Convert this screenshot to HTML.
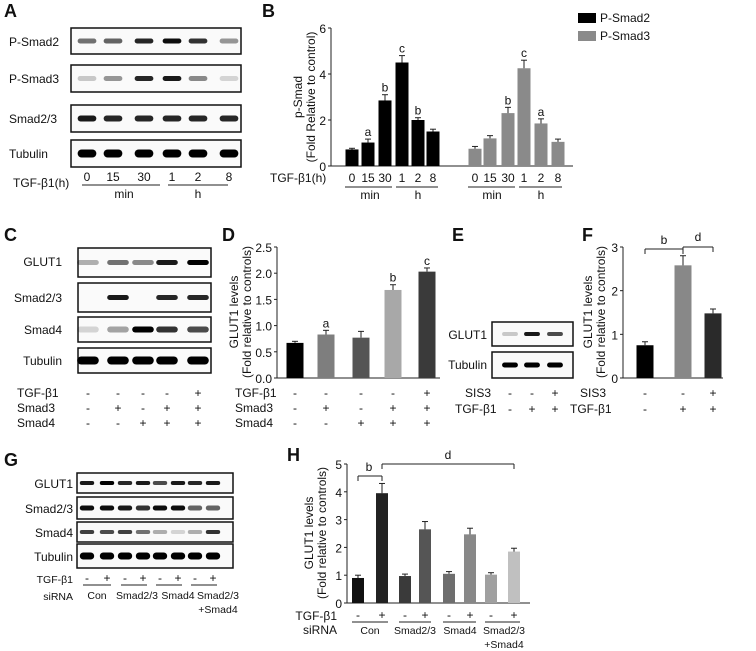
<!DOCTYPE html>
<html><head><meta charset="utf-8"><style>
body{margin:0;background:#fff}
svg{display:block;font-family:"Liberation Sans",sans-serif}
text{font-size:12px;fill:#111}
.pl{font-size:18px;font-weight:bold}
.sm{font-size:10.5px}
</style></head><body>
<svg id="fig" width="756" height="651" viewBox="0 0 756 651"></svg>
<script>
// ---- Data arrays ----
const bCategories=["0","15","30","1","2","8"];
const bSmad2=[0.72,1.02,2.85,4.5,2.0,1.5];
const bSmad2Err=[0.05,0.15,0.25,0.3,0.1,0.1];
const bSmad2Sig=["","a","b","c","b",""];
const bSmad3=[0.75,1.2,2.3,4.25,1.85,1.05];
const bSmad3Err=[0.1,0.12,0.25,0.35,0.2,0.12];
const bSmad3Sig=["","","b","c","a",""];
const bTicks=[0,2,4,6];
const dValues=[0.67,0.83,0.77,1.68,2.03];
const dErr=[0.03,0.08,0.12,0.1,0.07];
const dSig=["","a","","b","c"];
const dTicks=["0.0","0.5","1.0","1.5","2.0","2.5"];
const fValues=[0.75,2.58,1.48];
const fErr=[0.08,0.22,0.1];
const fTicks=[0,1,2,3];
const hValues=[0.9,3.95,0.97,2.65,1.05,2.47,1.02,1.85];
const hErr=[0.1,0.35,0.07,0.28,0.08,0.22,0.07,0.12];
const hTicks=[0,1,2,3,4,5];

const NS="http://www.w3.org/2000/svg";
const svg=document.getElementById('fig');
function el(tag,attrs,parent){const e=document.createElementNS(NS,tag);for(const k in attrs)e.setAttribute(k,attrs[k]);(parent||svg).appendChild(e);return e;}
function txt(x,y,s,anchor,cls,name){const t=el('text',{x:x,y:y,'text-anchor':anchor||'start'});if(cls)t.setAttribute('class',cls);t.textContent=s;


return t;}
function line(x1,y1,x2,y2,name){const l=el('line',{x1:x1,y1:y1,x2:x2,y2:y2,stroke:'#222','stroke-width':1});


return l;}

function axis(x0,x1,y0,yTop,max,ticks,name){
  const g=el('g',{});
  
  
  const sy=v=>y0-(v/max)*(y0-yTop);
  line(x0,yTop,x0,y0,'y-axis');line(x0,y0,x1,y0,'x-axis');
  ticks.forEach(t=>{const v=parseFloat(t);line(x0-3,sy(v),x0,sy(v),'y-tick');txt(x0-5,sy(v)+5,String(t),'end',null,'y-tick-label');});
  return sy;
}
function bar(cx,w,sy,y0,v,err,color,sig,name){
  const r=el('rect',{x:cx-w/2,y:sy(v),width:w,height:y0-sy(v),fill:color});
  
  
  if(err){line(cx,sy(v),cx,sy(v+err),'error-bar');line(cx-3,sy(v+err),cx+3,sy(v+err),'error-cap');}
  if(sig)txt(cx,sy(v+err)-3,sig,'middle',null,'significance-label');
}
function ytitle(x,y,l1,l2){const t=el('text',{transform:`translate(${x},${y}) rotate(-90)`,'text-anchor':'middle'});


const a=el('tspan',{x:0,dy:0},t);a.textContent=l1;const b=el('tspan',{x:0,dy:13},t);b.textContent=l2;}

function blot(x0,x1,y0,y1,lanes,ints,bh,name){
  const g=el('g',{});
  
  
  el('rect',{x:x0,y:y0,width:x1-x0,height:y1-y0,fill:'#fafafa',stroke:'#111','stroke-width':1.5},g);
  const w=(lanes.length>1?(lanes[1]-lanes[0]):30)*0.72;
  lanes.forEach((c,i)=>{if(ints[i]>0){el('rect',{x:c-w/2,y:(y0+y1)/2-bh/2,width:w,height:bh,rx:bh/2,fill:'#000','fill-opacity':ints[i]},g);}});
}

[["A",4,17],["B",262,17],["C",4,241],["D",222,241],["E",452,241],["F",582,241],["G",4,466],["H",287,461]].forEach(p=>txt(p[1],p[2],p[0],'start','pl','panel-label-'+p[0].toLowerCase()));

// ---- Panel A ----
const aLanes=[87,113,144,172,198,229];
blot(71,241,28,54,aLanes,[0.55,0.6,0.85,0.95,0.8,0.4],5,'blot-p-smad2');
blot(71,241,65,92,aLanes,[0.2,0.4,0.85,0.9,0.45,0.15],5,'blot-p-smad3');
blot(71,241,105,132,aLanes,[0.9,0.85,0.85,0.85,0.85,0.85],6,'blot-smad23');
blot(71,241,140,167,aLanes,[1,1,1,1,1,1],8,'blot-tubulin');
[["P-Smad2",46],["P-Smad3",83],["Smad2/3",123],["Tubulin",158]].forEach(r=>txt(9,r[1],r[0],'start',null,'row-label'));
bCategories.forEach((c,i)=>txt(aLanes[i],181,c,'middle',null,'lane-label'));
txt(13,187,'TGF-β1(h)','start',null,'row-label');
line(82,185,160,185,'group-line');line(168,185,228,185,'group-line');
txt(124,198,'min','middle');txt(198,198,'h','middle');

// ---- Panel B ----
const bX2=[352,368,385,402,418,433],bX3=[475,490,508,524,541,558];
const syB=axis(331,573,166,28,6,bTicks,'chart-b');
bSmad2.forEach((v,i)=>bar(bX2[i],13,syB,166,v,bSmad2Err[i],'#000',bSmad2Sig[i],'bar-psmad2-'+i));
bSmad3.forEach((v,i)=>bar(bX3[i],13,syB,166,v,bSmad3Err[i],'#8a8a8a',bSmad3Sig[i],'bar-psmad3-'+i));
ytitle(302,97,'p-Smad','(Fold Relative to control)');
bCategories.forEach((c,i)=>{txt(bX2[i],182,c,'middle',null,'x-tick-label');txt(bX3[i],182,c,'middle',null,'x-tick-label');});
txt(270,182,'TGF-β1(h)','start',null,'x-axis-title');
line(345,187,392,187);line(396,187,438,187);line(468,187,515,187);line(519,187,562,187);
txt(370,199,'min','middle');txt(418,199,'h','middle');txt(492,199,'min','middle');txt(541,199,'h','middle');
el('rect',{x:578,y:13,width:18,height:10,fill:'#000'});txt(600,22,'P-Smad2','start',null,'legend-entry');
el('rect',{x:578,y:31,width:18,height:10,fill:'#8a8a8a'});txt(600,40,'P-Smad3','start',null,'legend-entry');

// ---- Panel C ----
const cLanes=[88,118,143,167,198];
blot(78,211,248,277,cLanes,[0.3,0.55,0.45,0.9,1],5,'blot-glut1');
blot(78,211,283,312,cLanes,[0,0.9,0,0.85,0.85],5,'blot-smad23');
blot(78,211,317,342,cLanes,[0.15,0.35,1,0.8,0.7],6,'blot-smad4');
blot(78,211,348,373,cLanes,[1,1,1,1,1],8,'blot-tubulin');
[["GLUT1",266],["Smad2/3",302],["Smad4",334],["Tubulin",365]].forEach(r=>txt(62,r[1],r[0],'end',null,'row-label'));
const cRows=[["TGF-β1",["-","-","-","-","+"],397],["Smad3",["-","+","-","+","+"],412],["Smad4",["-","-","+","+","+"],427]];
cRows.forEach(r=>{txt(17,r[2],r[0]);r[1].forEach((s,i)=>txt(cLanes[i],r[2],s,'middle'));});

// ---- Panel D ----
const dX=[295,326,361,393,427],dCol=['#000','#7e7e7e','#555','#a8a8a8','#3a3a3a'];
const syD=axis(277,440,378,247,2.5,dTicks,'chart-d');
dValues.forEach((v,i)=>bar(dX[i],17,syD,378,v,dErr[i],dCol[i],dSig[i],'bar-d-'+i));
ytitle(238,312,'GLUT1 levels','(Fold relative to controls)');
cRows.forEach(r=>{txt(235,r[2],r[0]);r[1].forEach((s,i)=>txt(dX[i],r[2],s,'middle'));});

// ---- Panel E ----
const eLanes=[510,532,555];
blot(492,573,322,346,eLanes,[0.2,0.9,0.7],4,'blot-glut1-e');
blot(492,573,352,378,eLanes,[1,1,1],5,'blot-tubulin-e');
txt(487,339,'GLUT1','end');txt(487,369,'Tubulin','end');
txt(465,397,'SIS3');txt(455,413,'TGF-β1');
["-","-","+"].forEach((s,i)=>txt(eLanes[i],397,s,'middle'));
["-","+","+"].forEach((s,i)=>txt(eLanes[i],413,s,'middle'));

// ---- Panel F ----
const fX=[645,683,713],fCol=['#000','#888','#2a2a2a'];
const syF=axis(623,723,378,247,3,fTicks,'chart-f');
fValues.forEach((v,i)=>bar(fX[i],17,syF,378,v,fErr[i],fCol[i],'','bar-f-'+i));
ytitle(592,312,'GLUT1 levels','(Fold relative to controls)');
line(645,249,683,249);line(645,249,645,254);line(683,249,683,254);txt(664,244,'b','middle');
line(683,247,713,247);line(683,247,683,252);line(713,247,713,252);txt(698,241,'d','middle');
txt(580,397,'SIS3');txt(570,413,'TGF-β1');
["-","-","+"].forEach((s,i)=>txt(fX[i],397,s,'middle'));
["-","+","+"].forEach((s,i)=>txt(fX[i],413,s,'middle'));

// ---- Panel G ----
const gLanes=[87,107,125,143,160,178,195,213];
blot(77,233,473,493,gLanes,[0.9,1,0.85,0.9,0.7,0.9,0.85,0.9],4,'blot-glut1-g');
blot(77,233,497,519,gLanes,[0.95,0.95,0.9,0.8,0.95,0.95,0.6,0.6],5,'blot-smad23-g');
blot(77,233,522,542,gLanes,[0.75,0.7,0.75,0.55,0.3,0.15,0.3,0.8],4,'blot-smad4-g');
blot(77,233,544,568,gLanes,[1,1,1,1,1,1,1,1],7,'blot-tubulin-g');
[["GLUT1",488],["Smad2/3",513],["Smad4",537],["Tubulin",561]].forEach(r=>txt(73,r[1],r[0],'end',null,'row-label'));
txt(73,583,'TGF-β1','end','sm');txt(73,600,'siRNA','end','sm');
gLanes.forEach((c,i)=>txt(c,582,i%2?'+':'-','middle'));
for(let k=0;k<4;k++)line(gLanes[2*k]-4,585,gLanes[2*k+1]+4,585);
txt(97,599,'Con','middle','sm');txt(137,599,'Smad2/3','middle','sm');txt(178,599,'Smad4','middle','sm');txt(218,599,'Smad2/3','middle','sm');txt(218,613,'+Smad4','middle','sm');

// ---- Panel H ----
const hX=[358,382,405,425,449,470,491,514],hCol=['#111','#222','#3a3a3a','#555','#6e6e6e','#888','#a0a0a0','#c0c0c0'];
const syH=axis(347,530,603,464,5,hTicks,'chart-h');
hValues.forEach((v,i)=>bar(hX[i],12,syH,603,v,hErr[i],hCol[i],'','bar-h-'+i));
ytitle(313,533,'GLUT1 levels','(Fold relative to controls)');
line(358,476,382,476);line(358,476,358,481);line(382,476,382,481);txt(369,471,'b','middle');
line(382,464,514,464);line(382,464,382,469);line(514,464,514,469);txt(448,459,'d','middle');
txt(337,620,'TGF-β1','end');txt(337,634,'siRNA','end');
hX.forEach((c,i)=>txt(c,619,i%2?'+':'-','middle'));
for(let k=0;k<4;k++)line(hX[2*k]-6,622,hX[2*k+1]+6,622);
txt(370,634,'Con','middle','sm');txt(415,634,'Smad2/3','middle','sm');txt(460,634,'Smad4','middle','sm');txt(504,634,'Smad2/3','middle','sm');txt(504,648,'+Smad4','middle','sm');
</script>
</body></html>
